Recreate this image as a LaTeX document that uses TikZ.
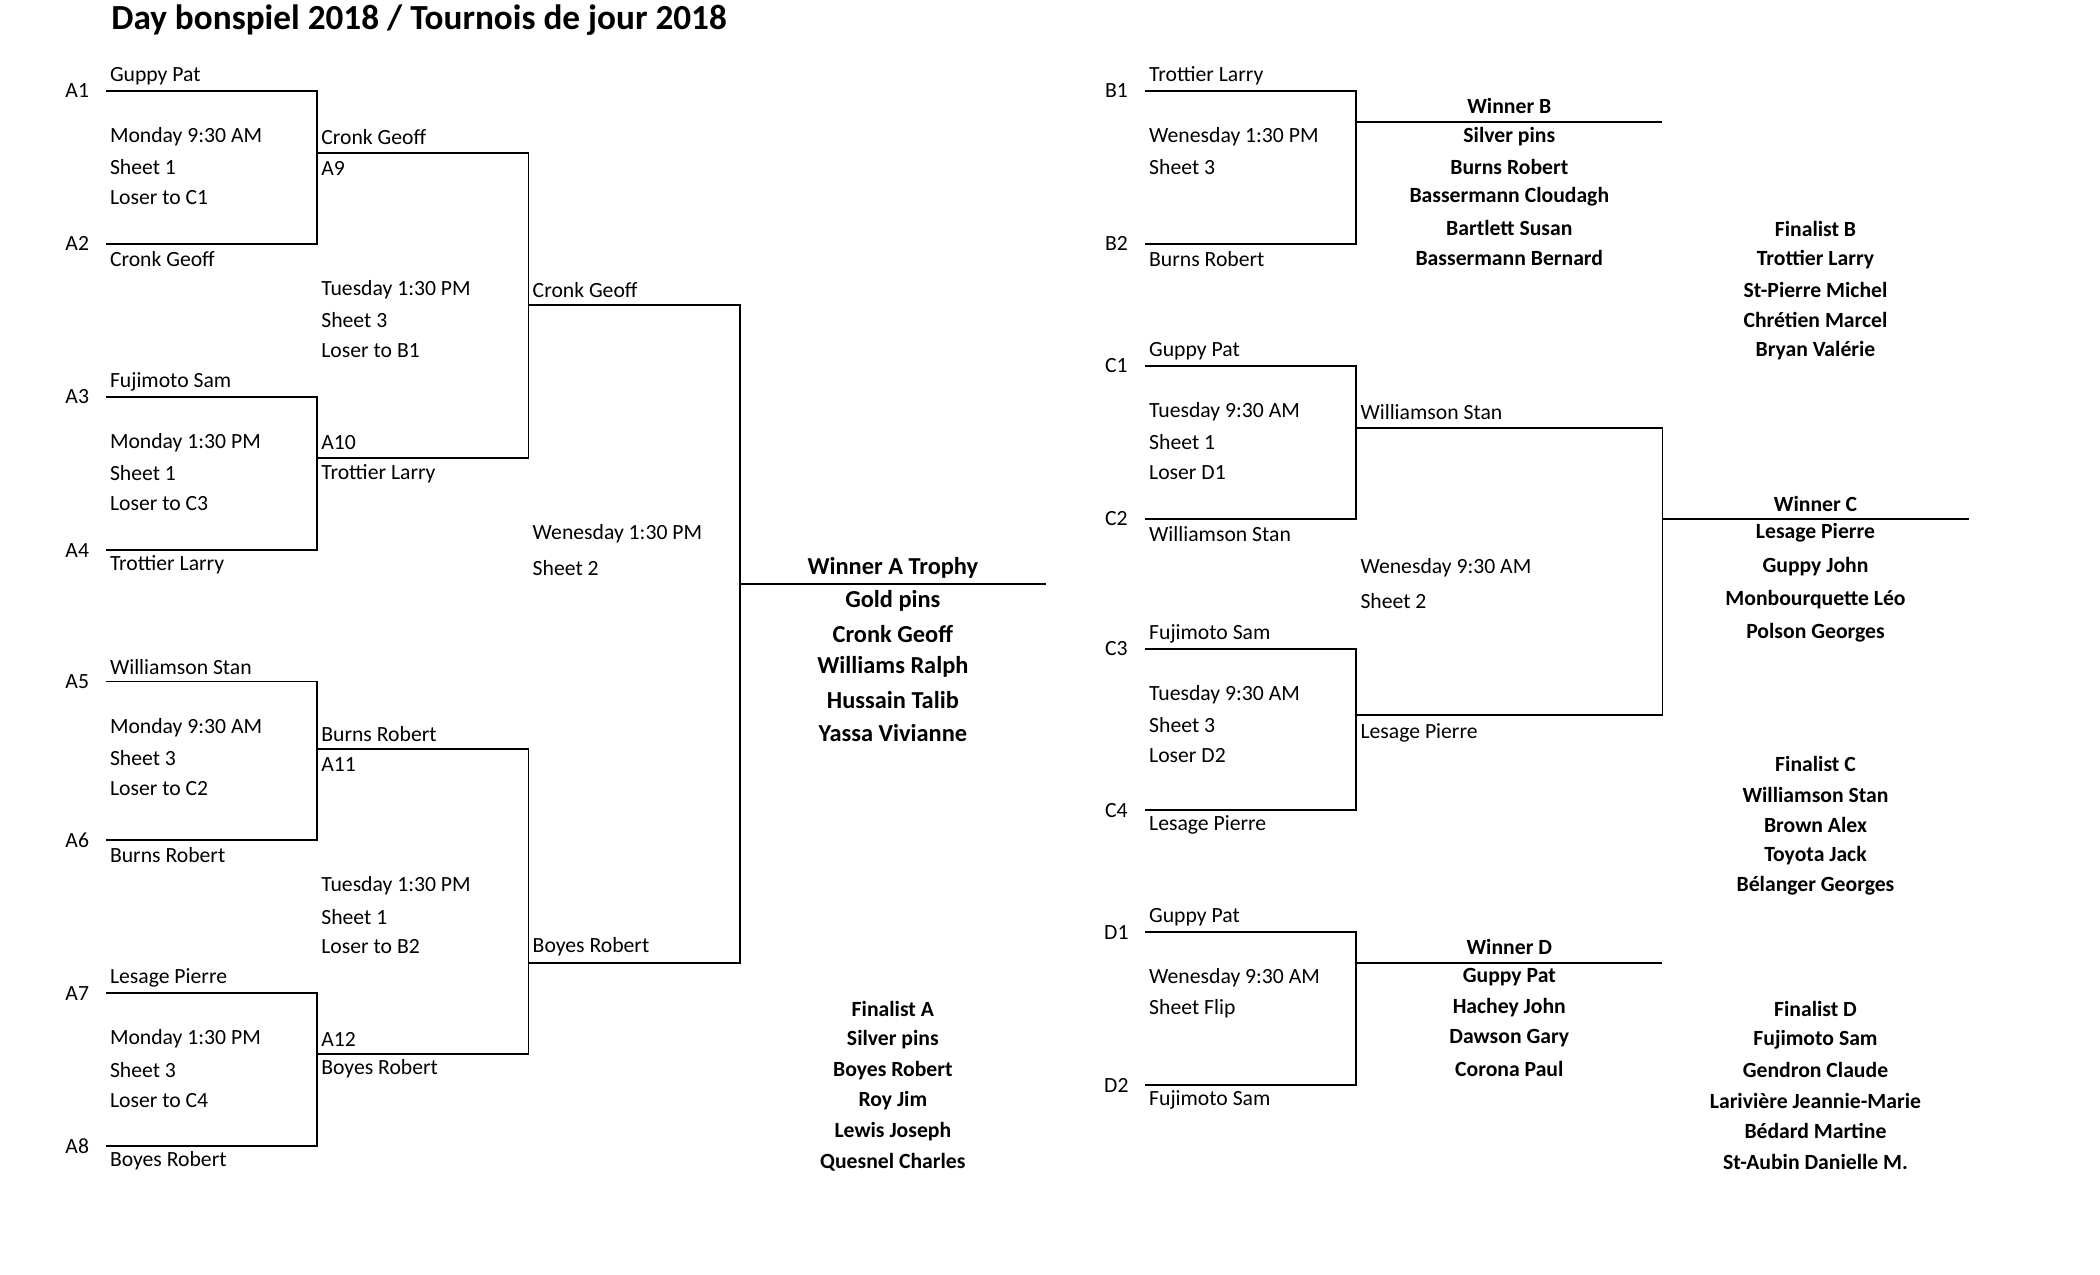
\documentclass[tikz,border=0pt]{standalone}
\usepackage{fontspec}
\setmainfont{Carlito}
\begin{document}
\begin{tikzpicture}[x=1pt,y=-1pt,
  ln/.style={line width=1.3pt,black},
  t/.style={anchor=west,inner sep=0pt,font=\fontsize{16}{18}\selectfont},
  lb/.style={anchor=center,inner sep=0pt,font=\fontsize{16}{18}\selectfont},
  b/.style={anchor=center,inner sep=0pt,font=\fontsize{16}{18}\selectfont\bfseries},
  bb/.style={anchor=center,inner sep=0pt,font=\fontsize{18}{20}\selectfont\bfseries}]
\useasboundingbox (0,0) rectangle (1550,941);
\node[anchor=west,inner sep=0pt,font=\fontsize{26}{28}\selectfont\bfseries] (title) at (82,15) {Day bonspiel 2018 / Tournois de jour 2018};
% first-round match: x0 x1 yTop yBot label1 label2 name1 name2 t1 t2 t3
\newcommand{\mymatch}[9]{%
  \draw[ln] (#1,#3) -- (#2,#3) -- (#2,#4) -- (#1,#4);
  \node[lb] at ({#1-21},#3) {#5};
  \node[lb] at ({#1-21},#4) {#6};
  \node[t] at ({#1+3},{#3-11}) {#7};
  \node[t] at ({#1+3},{#4+11}) {#8};
  \foreach \s [count=\i] in {#9} {\node[t] at ({#1+3},{#3+34+(\i-1)*22.5}) {\s};}
}
\newcommand{\mytxt}[3]{\foreach \s [count=\i] in {#3} {\node[t] at (#1,{#2+(\i-1)*22.5}) {\s};}}
\newcommand{\mylist}[4]{\node[b] at (#1,#2) {#3};\foreach \s [count=\i] in {#4} {\node[b] at (#1,{#2+\i*22.5}) {\s};}}
% Left bracket
\mymatch{78}{234}{67}{180}{A1}{A2}{Guppy Pat}{Cronk Geoff}{Monday 9:30 AM,Sheet 1,Loser to C1}
\mymatch{78}{234}{293}{406}{A3}{A4}{Fujimoto Sam}{Trottier Larry}{Monday 1:30 PM,Sheet 1,Loser to C3}
\mymatch{78}{234}{503}{620}{A5}{A6}{Williamson Stan}{Burns Robert}{Monday 9:30 AM,Sheet 3,Loser to C2}
\mymatch{78}{234}{733}{846}{A7}{A8}{Lesage Pierre}{Boyes Robert}{Monday 1:30 PM,Sheet 3,Loser to C4}
\draw[ln] (234,113) -- (390,113) -- (390,338) -- (234,338);
\node[t] at (237,101) {Cronk Geoff}; \node[t] at (237,124) {A9};
\node[t] at (237,327) {A10}; \node[t] at (237,350) {Trottier Larry};
\mytxt{237}{214}{Tuesday 1:30 PM,Sheet 3,Loser to B1}
\draw[ln] (234,553) -- (390,553) -- (390,778) -- (234,778);
\node[t] at (237,542) {Burns Robert}; \node[t] at (237,564) {A11};
\node[t] at (237,767) {A12}; \node[t] at (237,789) {Boyes Robert};
\mytxt{237}{654}{Tuesday 1:30 PM,Sheet 1,Loser to B2}
\draw[ln] (390,225) -- (546,225) -- (546,711) -- (390,711);
\node[t] at (393,214) {Cronk Geoff}; \node[t] at (393,699) {Boyes Robert};
\node[t] at (393,394) {Wenesday 1:30 PM}; \node[t] at (393,419) {Sheet 2};
\draw[ln] (546,431) -- (772,431);
\node[bb] at (659,419) {Winner A Trophy};
\foreach \s [count=\i] in {Gold pins,Cronk Geoff,Williams Ralph,Hussain Talib,Yassa Vivianne} {\node[bb] at (659,{419+\i*24.4}) {\s};}
\mylist{659}{745}{Finalist A}{Silver pins,Boyes Robert,Roy Jim,Lewis Joseph,Quesnel Charles}
% Right bracket
\mymatch{845}{1001}{67}{180}{B1}{B2}{Trottier Larry}{Burns Robert}{Wenesday 1:30 PM,Sheet 3}
\draw[ln] (1001,90) -- (1227,90);
\mylist{1114}{78}{Winner B}{Silver pins,Burns Robert,Bassermann Cloudagh,Bartlett Susan,Bassermann Bernard}
\mylist{1340}{169}{Finalist B}{Trottier Larry,St-Pierre Michel,Chrétien Marcel,Bryan Valérie}
\mymatch{845}{1001}{270}{383}{C1}{C2}{Guppy Pat}{Williamson Stan}{Tuesday 9:30 AM,Sheet 1,Loser D1}
\mymatch{845}{1001}{479}{598}{C3}{C4}{Fujimoto Sam}{Lesage Pierre}{Tuesday 9:30 AM,Sheet 3,Loser D2}
\draw[ln] (1001,316) -- (1227,316) -- (1227,528) -- (1001,528);
\node[t] at (1004,304) {Williamson Stan}; \node[t] at (1004,541) {Lesage Pierre};
\node[t] at (1004,419) {Wenesday 9:30 AM}; \node[t] at (1004,444) {Sheet 2};
\draw[ln] (1227,383) -- (1453,383);
\node[b] at (1340,372) {Winner C};
\foreach \s [count=\i] in {Lesage Pierre,Guppy John,Monbourquette Léo,Polson Georges} {\node[b] at (1340,{369+\i*24.5}) {\s};}
\mylist{1340}{564}{Finalist C}{Williamson Stan,Brown Alex,Toyota Jack,Bélanger Georges}
\mymatch{845}{1001}{688}{801}{D1}{D2}{Guppy Pat}{Fujimoto Sam}{Wenesday 9:30 AM,Sheet Flip}
\draw[ln] (1001,711) -- (1227,711);
\mylist{1114}{699}{Winner D}{Guppy Pat,Hachey John,Dawson Gary,Corona Paul}
\mylist{1340}{745}{Finalist D}{Fujimoto Sam,Gendron Claude,Larivière Jeannie-Marie,Bédard Martine,St-Aubin Danielle M.}
\end{tikzpicture}
\end{document}
